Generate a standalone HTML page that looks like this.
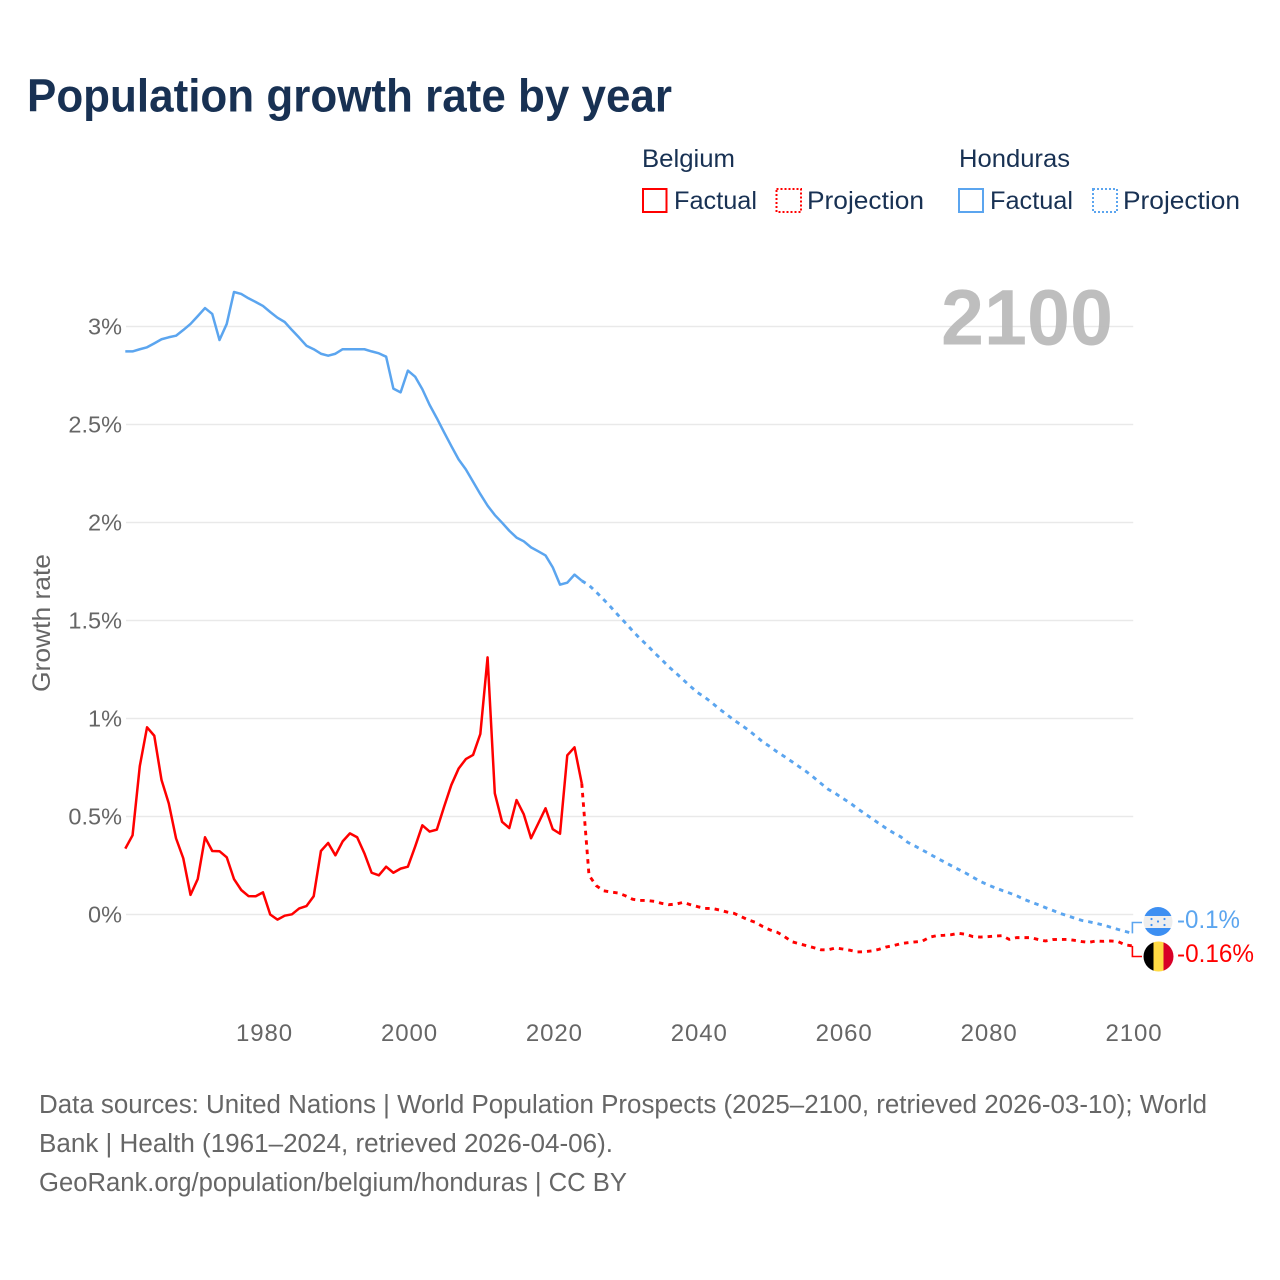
<!DOCTYPE html>
<html lang="en">
<head>
<meta charset="utf-8">
<title>Population growth rate by year</title>
<style>
html,body{margin:0;padding:0;background:#fff;}
svg{display:block;font-family:"Liberation Sans",sans-serif;}
</style>
</head>
<body>
<svg id="chart" xmlns="http://www.w3.org/2000/svg" width="1280" height="1280" viewBox="0 0 1280 1280">
  <rect x="0" y="0" width="1280" height="1280" fill="#fff"/>
  <text x="27" y="111.5" font-size="46" font-weight="700" fill="#183153" textLength="645" lengthAdjust="spacingAndGlyphs">Population growth rate by year</text>

  <g font-size="25" fill="#183153">
    <text x="642" y="167" textLength="93" lengthAdjust="spacingAndGlyphs">Belgium</text>
    <text x="959" y="167" textLength="111" lengthAdjust="spacingAndGlyphs">Honduras</text>
    <g>
      <rect x="643" y="189" width="23.5" height="23" fill="none" stroke="#ff0000" stroke-width="2"/>
      <text x="674" y="209" textLength="83" lengthAdjust="spacingAndGlyphs">Factual</text>
    </g>
    <g>
      <rect x="776.5" y="189" width="24.5" height="23" fill="none" stroke="#ff0000" stroke-width="2" stroke-dasharray="2 2"/>
      <text x="807" y="209" textLength="117" lengthAdjust="spacingAndGlyphs">Projection</text>
    </g>
    <g>
      <rect x="959" y="189" width="24" height="23" fill="none" stroke="#5ba5ef" stroke-width="2"/>
      <text x="990" y="209" textLength="83" lengthAdjust="spacingAndGlyphs">Factual</text>
    </g>
    <g>
      <rect x="1093" y="189" width="24" height="23" fill="none" stroke="#5ba5ef" stroke-width="2" stroke-dasharray="2 2"/>
      <text x="1123" y="209" textLength="117" lengthAdjust="spacingAndGlyphs">Projection</text>
    </g>
  </g>

  <g id="grid"></g>
  <g id="yticks"></g>
  <g id="xticks"></g>
  <text transform="translate(50,623) rotate(-90)" text-anchor="middle" font-size="25" fill="#666" textLength="138" lengthAdjust="spacingAndGlyphs">Growth rate</text>

  <text x="941" y="344.5" font-size="79" font-weight="700" fill="#bbbbbb" fill-opacity="0.95" textLength="172" lengthAdjust="spacingAndGlyphs">2100</text>

  <g id="series"></g>

  <g>
    <clipPath id="hn-clip"><circle cx="1158" cy="921.5" r="14.5"/></clipPath>
    <g clip-path="url(#hn-clip)">
      <rect x="1143" y="907" width="30" height="9" fill="#3d8ff2"/>
      <rect x="1143" y="916" width="30" height="12" fill="#eeeeee"/>
      <rect x="1143" y="928" width="30" height="9" fill="#3d8ff2"/>
    </g>
    <g fill="#3d8ff2">
      <circle cx="1151.5" cy="919" r="1.1"/><circle cx="1164.5" cy="919" r="1.1"/>
      <circle cx="1158" cy="921.5" r="1.1"/>
      <circle cx="1151.5" cy="925" r="1.1"/><circle cx="1164.5" cy="925" r="1.1"/>
    </g>
  </g>
  <g>
    <clipPath id="be-clip"><circle cx="1158.5" cy="956.5" r="15"/></clipPath>
    <g clip-path="url(#be-clip)">
      <rect x="1143" y="941" width="10.5" height="31" fill="#000000"/>
      <rect x="1153.5" y="941" width="10" height="31" fill="#ffda44"/>
      <rect x="1163.5" y="941" width="11" height="31" fill="#d80027"/>
    </g>
  </g>
  <text x="1177" y="928" font-size="25" fill="#5ba5ef" textLength="63" lengthAdjust="spacingAndGlyphs">-0.1%</text>
  <text x="1177" y="962" font-size="25" fill="#ff0000" textLength="77" lengthAdjust="spacingAndGlyphs">-0.16%</text>

  <g font-size="25.5" fill="#666">
    <text x="39" y="1113" textLength="1168" lengthAdjust="spacingAndGlyphs">Data sources: United Nations | World Population Prospects (2025–2100, retrieved 2026-03-10); World</text>
    <text x="39" y="1152" textLength="574" lengthAdjust="spacingAndGlyphs">Bank | Health (1961–2024, retrieved 2026-04-06).</text>
    <text x="39" y="1191" textLength="588" lengthAdjust="spacingAndGlyphs">GeoRank.org/population/belgium/honduras | CC BY</text>
  </g>
</svg>
<script>
const factualStartYear = 1961;
const projectionStartYear = 2025;
const yTickValues = [0, 0.5, 1, 1.5, 2, 2.5, 3];
const yTickLabels = ["0%", "0.5%", "1%", "1.5%", "2%", "2.5%", "3%"];
const xTickYears = [1980, 2000, 2020, 2040, 2060, 2080, 2100];
const xTickLabels = ["1980", "2000", "2020", "2040", "2060", "2080", "2100"];

const belgiumFactual = [
  0.336, 0.404, 0.757, 0.955, 0.912, 0.686, 0.567, 0.389, 0.287, 0.10,
  0.181, 0.394, 0.324, 0.323, 0.292, 0.181, 0.125, 0.094, 0.093, 0.113,
  0.0, -0.026, -0.006, 0.001, 0.031, 0.043, 0.093, 0.324, 0.365, 0.302,
  0.373, 0.414, 0.394, 0.312, 0.213, 0.20, 0.244, 0.213, 0.234, 0.244,
  0.346, 0.455, 0.423, 0.433, 0.55, 0.661, 0.744, 0.793, 0.814, 0.921,
  1.312, 0.618, 0.473, 0.441, 0.584, 0.511, 0.389, 0.465, 0.542, 0.435,
  0.412, 0.812, 0.853, 0.669
];
const belgiumProjection = [
  0.20, 0.147, 0.121, 0.115, 0.11, 0.096, 0.078, 0.072, 0.072, 0.067,
  0.057, 0.05, 0.053, 0.062, 0.05, 0.04, 0.031, 0.031, 0.023, 0.013,
  0.006, -0.011, -0.028, -0.04, -0.062, -0.079, -0.091, -0.113, -0.139, -0.149,
  -0.159, -0.169, -0.18, -0.18, -0.171, -0.176, -0.182, -0.191, -0.19, -0.186,
  -0.178, -0.166, -0.159, -0.149, -0.144, -0.14, -0.136, -0.116, -0.108, -0.106,
  -0.103, -0.096, -0.101, -0.113, -0.115, -0.113, -0.11, -0.108, -0.127, -0.118,
  -0.118, -0.118, -0.128, -0.135, -0.128, -0.127, -0.127, -0.132, -0.138, -0.142,
  -0.135, -0.137, -0.135, -0.138, -0.155, -0.16
];
const hondurasFactual = [
  2.873, 2.873, 2.884, 2.894, 2.914, 2.935, 2.945, 2.953, 2.982, 3.013,
  3.053, 3.094, 3.064, 2.931, 3.013, 3.176, 3.166, 3.144, 3.125, 3.105,
  3.074, 3.045, 3.023, 2.982, 2.943, 2.902, 2.884, 2.861, 2.851, 2.861,
  2.884, 2.884, 2.884, 2.884, 2.873, 2.863, 2.846, 2.683, 2.664, 2.775,
  2.744, 2.68, 2.60, 2.532, 2.46, 2.39, 2.322, 2.271, 2.208, 2.145,
  2.086, 2.038, 1.999, 1.958, 1.923, 1.904, 1.873, 1.853, 1.832, 1.771,
  1.683, 1.693, 1.734, 1.703
];
const hondurasProjection = [
  1.68, 1.645, 1.608, 1.569, 1.528, 1.489, 1.448, 1.409, 1.375, 1.336,
  1.302, 1.264, 1.232, 1.198, 1.164, 1.132, 1.108, 1.079, 1.048, 1.021,
  0.992, 0.967, 0.941, 0.911, 0.88, 0.856, 0.829, 0.805, 0.78, 0.754,
  0.729, 0.70, 0.669, 0.639, 0.618, 0.593, 0.57, 0.542, 0.516, 0.491,
  0.465, 0.44, 0.417, 0.397, 0.368, 0.349, 0.329, 0.309, 0.288, 0.269,
  0.249, 0.23, 0.211, 0.19, 0.169, 0.152, 0.137, 0.123, 0.11, 0.096,
  0.078, 0.064, 0.05, 0.035, 0.021, 0.006, -0.006, -0.018, -0.03, -0.037,
  -0.045, -0.054, -0.065, -0.076, -0.086, -0.096
];

const NS = "http://www.w3.org/2000/svg";
const plotLeft = 125.3, plotRight = 1132.4;
const zeroY = 914.5, pxPerUnit = 196;
function xScale(year) {
  return plotLeft + (year - 1961) * (plotRight - plotLeft) / (2100 - 1961);
}
function yScale(value) {
  return zeroY - value * pxPerUnit;
}
function make(tag, attrs, parent) {
  const el = document.createElementNS(NS, tag);
  for (const k in attrs) el.setAttribute(k, attrs[k]);
  parent.appendChild(el);
  return el;
}
function toPoints(values, startYear) {
  return values.map(function (v, i) {
    return xScale(startYear + i).toFixed(2) + "," + yScale(v).toFixed(2);
  });
}

const gridGroup = document.getElementById("grid");
const yGroup = document.getElementById("yticks");
const xGroup = document.getElementById("xticks");
const seriesGroup = document.getElementById("series");

yTickValues.forEach(function (v, i) {
  const line = make("line", {x1: plotLeft + 0.7, x2: plotRight + 0.8, y1: yScale(v), y2: yScale(v), stroke: "#e9e9e9", "stroke-width": 1.6}, gridGroup);
  
  
  const label = make("text", {x: 122, y: yScale(v) + 8, "text-anchor": "end", "font-size": 23.5, fill: "#666"}, yGroup);
  
  
  label.textContent = yTickLabels[i];
});

xTickYears.forEach(function (year, i) {
  const label = make("text", {x: xScale(year) + 1.6, y: 1041, "text-anchor": "middle", "font-size": 24, fill: "#666", "letter-spacing": 0.9}, xGroup);
  
  
  label.textContent = xTickLabels[i];
});

function drawSeries(name, color, factual, projection, labelY) {
  const factualPts = toPoints(factual, factualStartYear);
  const projectionPts = toPoints(projection, projectionStartYear);
  const lastFactual = factualPts[factualPts.length - 1];

  const factualLine = make("polyline", {points: factualPts.join(" "), fill: "none", stroke: color, "stroke-width": 2.5, "stroke-linejoin": "round"}, seriesGroup);
  
  

  const projectionLine = make("polyline", {points: [lastFactual].concat(projectionPts).join(" "), fill: "none", stroke: color, "stroke-width": 2.9, "stroke-dasharray": "4.5 5", "stroke-linejoin": "round"}, seriesGroup);
  
  

  const endX = xScale(2100);
  const endY = yScale(projection[projection.length - 1]);
  const connector = make("polyline", {points: endX + "," + endY + " " + endX + "," + labelY + " 1142," + labelY, fill: "none", stroke: color, "stroke-width": 1.6}, seriesGroup);
  
  
}

drawSeries("honduras", "#5ba5ef", hondurasFactual, hondurasProjection, 922.5);
drawSeries("belgium", "#ff0000", belgiumFactual, belgiumProjection, 956.5);
</script>
</body>
</html>
